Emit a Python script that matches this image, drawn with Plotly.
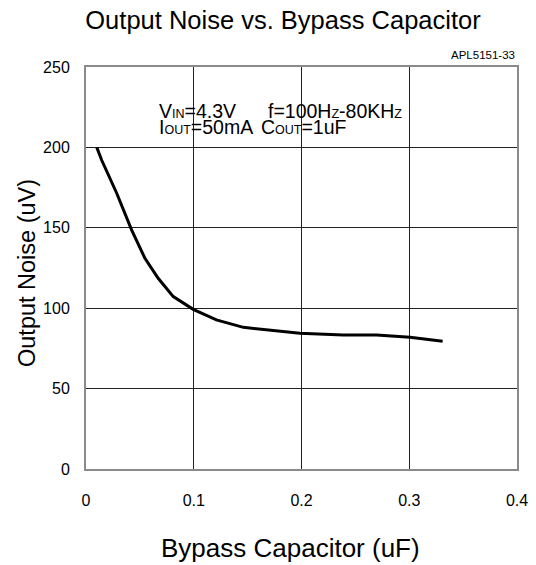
import plotly.graph_objects as go

# Data
cap_uF = [0.01, 0.0146, 0.0285, 0.0424, 0.0547, 0.067, 0.081, 0.0995, 0.121, 0.146, 0.1985, 0.2387, 0.2697, 0.3006, 0.331]
noise_uV = [200, 192, 171.5, 148.6, 131, 118.6, 107.2, 99.3, 92.7, 88.1, 84.4, 83.3, 83.3, 81.9, 79.4]

x_ticks = [0, 0.1, 0.2, 0.3, 0.4]
x_tick_labels = ["0", "0.1", "0.2", "0.3", "0.4"]
y_ticks = [0, 50, 100, 150, 200, 250]
y_tick_labels = ["0", "50", "100", "150", "200", "250"]

FONT = "Liberation Sans, Arial, sans-serif"

fig = go.Figure()
fig.add_trace(go.Scatter(x=cap_uF, y=noise_uV, mode="lines",
                         line=dict(color="black", width=3), showlegend=False,
                         hoverinfo="skip"))

L, R, T, B = 86, 19, 67, 96
W, H = 536, 565
pw, ph = W - L - R, H - T - B

def px(x):
    return (x - L) / pw

def py(y):
    return (H - B - y) / ph

fig.update_layout(
    width=W, height=H,
    margin=dict(l=L, r=R, t=T, b=B),
    paper_bgcolor="white", plot_bgcolor="white",
    font=dict(family=FONT, color="black"),
    title=dict(text="Output Noise vs. Bypass Capacitor", x=283 / W, xanchor="center",
               y=1 - 20 / H, yanchor="middle", font=dict(size=25.5)),
    xaxis=dict(range=[0, 0.4], tickvals=x_ticks, ticktext=x_tick_labels,
               showgrid=True, gridcolor="#222", gridwidth=1, zeroline=False,
               showline=True, linecolor="#8a8a8a", linewidth=2, mirror=True,
               ticks="", ticklabelstandoff=16, tickfont=dict(size=16),
               automargin=False),
    yaxis=dict(range=[0, 250], tickvals=y_ticks, ticktext=y_tick_labels,
               showgrid=True, gridcolor="#222", gridwidth=1, zeroline=False,
               showline=True, linecolor="#8a8a8a", linewidth=2, mirror=True,
               ticks="", ticklabelstandoff=11, tickfont=dict(size=16),
               automargin=False),
)

# axis titles
fig.add_annotation(xref="paper", yref="paper", x=px(290), y=py(548),
                   text="Bypass Capacitor (uF)", showarrow=False,
                   xanchor="center", yanchor="middle", font=dict(size=26, family=FONT))
fig.add_annotation(xref="paper", yref="paper", x=px(27), y=py(273),
                   text="Output Noise (uV)", showarrow=False, textangle=-90,
                   xanchor="center", yanchor="middle", font=dict(size=23.5, family=FONT))

# white box behind the conditions text
fig.add_shape(type="rect", xref="paper", yref="paper",
              x0=px(158), x1=px(432), y0=py(150), y1=py(100),
              fillcolor="white", line=dict(width=0), layer="between")

sm = "<span style='font-size:12.5px'>{}</span>"
lines = [
    (158, 110.5, "V" + sm.format("IN") + "=4.3V"),
    (267, 110.5, "f=100H" + sm.format("Z") + "-80KH" + sm.format("Z")),
    (158, 127, "I" + sm.format("OUT") + "=50mA"),
    (260, 127, "C" + sm.format("OUT") + "=1uF"),
]
for xx, yy, txt in lines:
    fig.add_annotation(xref="paper", yref="paper", x=px(xx), y=py(yy), text=txt,
                       showarrow=False, xanchor="left", yanchor="middle",
                       font=dict(size=19.5, family=FONT), borderpad=0)

fig.add_annotation(xref="paper", yref="paper", x=px(517), y=py(55.5), text="APL5151-33",
                   showarrow=False, xanchor="right", yanchor="middle",
                   font=dict(size=11.5, family=FONT))

fig.write_html("out.html", config={"displayModeBar": False},
               post_script="document.body.style.margin='0';document.body.style.overflow='hidden';")
